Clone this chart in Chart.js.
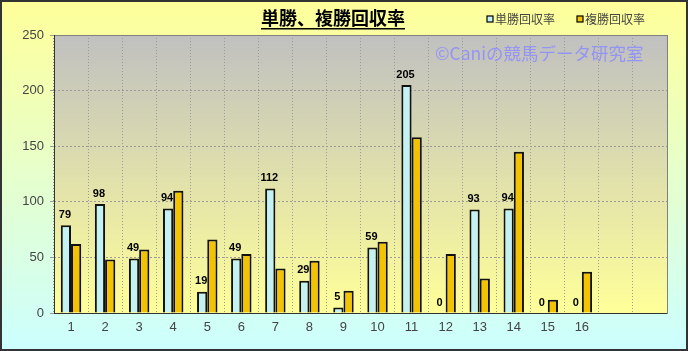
<!DOCTYPE html>
<html>
<head>
<meta charset="utf-8">
<script src="https://cdn.jsdelivr.net/npm/chart.js@4"></script>
<style>
  html, body { margin: 0; padding: 0; background: #fff; }
  #wrap { width: 688px; height: 351px; position: relative; }
</style>
</head>
<body>
<div id="wrap"><canvas id="chart" width="688" height="351"></canvas></div>
<script>
// レース番号（17, 18は空き枠）
const raceLabels = ["1","2","3","4","5","6","7","8","9","10","11","12","13","14","15","16","",""];
const tanshoKaishu = [79, 98, 49, 94, 19, 49, 112, 29, 5, 59, 205, 0, 93, 94, 0, 0, null, null];
const fukushoKaishu = [62, 48, 57, 110, 66, 53, 40, 47, 20, 64, 158, 53, 31, 145, 12, 37, null, null];
const yTicks = [0, 50, 100, 150, 200, 250];

const titleText = "単勝、複勝回収率";
const watermark = "©Caniの競馬データ研究室";
const legendNames = ["単勝回収率", "複勝回収率"];
const cyan = "#c4f1f4";
const gold = "#f4c300";

const bgPlugin = {
    id: "bg",
    beforeDraw(chart) {
        const { ctx, chartArea: a, width, height } = chart;
        ctx.save();
        // 外枠のグラデーション
        let g = ctx.createLinearGradient(0, 0, 0, height);
        g.addColorStop(0, "#ffff99");
        g.addColorStop(1, "#ccffff");
        ctx.fillStyle = g;
        ctx.fillRect(0, 0, width, height);
        // プロットエリア
        g = ctx.createLinearGradient(0, a.top, 0, a.bottom);
        g.addColorStop(0, "#c0c0c0");
        g.addColorStop(1, "#ffff99");
        ctx.fillStyle = g;
        ctx.fillRect(a.left, a.top, a.right - a.left, a.bottom - a.top);
        ctx.restore();
    },
    afterDatasetsDraw(chart) {
        const { ctx, chartArea: a, width, height } = chart;
        ctx.save();
        // プロットエリア枠
        ctx.strokeStyle = "#808080";
        ctx.lineWidth = 1;
        ctx.strokeRect(a.left + 0.5, a.top + 0.5, a.right - a.left, a.bottom - a.top);
        ctx.strokeStyle = "#333";
        ctx.beginPath();
        ctx.moveTo(a.left, a.bottom + 0.5);
        ctx.lineTo(a.right, a.bottom + 0.5);
        ctx.moveTo(a.left + 0.5, a.top);
        ctx.lineTo(a.left + 0.5, a.bottom);
        ctx.stroke();

        // 透かし
        ctx.font = "17.5px 'Noto Sans CJK JP'";
        ctx.fillStyle = "rgba(140,140,255,0.85)";
        ctx.textAlign = "left";
        ctx.textBaseline = "middle";
        ctx.fillText(watermark, 435, 53);

        // データラベル（単勝のみ）
        const meta = chart.getDatasetMeta(0);
        ctx.font = "bold 11px 'Liberation Sans'";
        ctx.fillStyle = "#000";
        ctx.textAlign = "center";
        ctx.textBaseline = "bottom";
        meta.data.forEach((bar, i) => {
            const v = tanshoKaishu[i];
            if (v === null) return;
            ctx.fillText(String(v), bar.x - 1, bar.y - 5);
        });

        // タイトル
        ctx.font = "bold 18px 'Noto Sans CJK JP'";
        ctx.fillStyle = "#000";
        ctx.textAlign = "center";
        ctx.textBaseline = "middle";
        ctx.fillText(titleText, 333, 18);
        const tw = ctx.measureText(titleText).width;
        ctx.fillRect(333 - tw / 2, 28, tw, 1.5);

        // 凡例
        ctx.font = "12px 'Noto Sans CJK JP'";
        ctx.textAlign = "left";
        const items = [[487, cyan], [577, gold]];
        items.forEach(([x, c], i) => {
            ctx.fillStyle = c;
            ctx.fillRect(x, 16, 6, 6);
            ctx.strokeStyle = "#000";
            ctx.lineWidth = 1.2;
            ctx.strokeRect(x, 16, 6, 6);
            ctx.fillStyle = "#444";
            ctx.fillText(legendNames[i], x + 8, 19.5);
        });

        // 全体の枠
        ctx.strokeStyle = "#333";
        ctx.lineWidth = 2;
        ctx.strokeRect(1, 1, width - 2, height - 2);
        ctx.restore();
    }
};

new Chart(document.getElementById("chart"), {
    type: "bar",
    data: {
        labels: raceLabels,
        datasets: [
            {
                label: legendNames[0],
                data: tanshoKaishu,
                backgroundColor: cyan,
                borderColor: "#111",
                borderWidth: 2,
                borderSkipped: "bottom",
            },
            {
                label: legendNames[1],
                data: fukushoKaishu,
                backgroundColor: gold,
                borderColor: "#111",
                borderWidth: 2,
                borderSkipped: "bottom",
            },
        ],
    },
    options: {
        responsive: false,
        animation: false,
        events: [],
        categoryPercentage: 0.6,
        barPercentage: 1,
        layout: { padding: { left: 0, top: 35, right: 21, bottom: 0 } },
        plugins: { legend: { display: false }, title: { display: false }, tooltip: { enabled: false } },
        scales: {
            x: {
                grid: { offset: true, color: "#9a9a9a", lineWidth: 1, drawTicks: false },
                border: { display: false, dash: [1, 2] },
                ticks: { color: "#444", font: { family: "Liberation Sans", size: 13 }, padding: 7 },
                afterFit(scale) { scale.height = 38; },
            },
            y: {
                min: 0,
                max: 250,
                afterBuildTicks(scale) { scale.ticks = yTicks.map(v => ({ value: v })); },
                grid: { color: "#9a9a9a", lineWidth: 1, drawTicks: true, tickLength: 4 },
                border: { display: false, dash: [2, 2] },
                ticks: { color: "#444", font: { family: "Liberation Sans", size: 13 }, padding: 6 },
                afterFit(scale) { scale.width = 54; },
            },
        },
    },
    plugins: [bgPlugin],
});
</script>
</body>
</html>
